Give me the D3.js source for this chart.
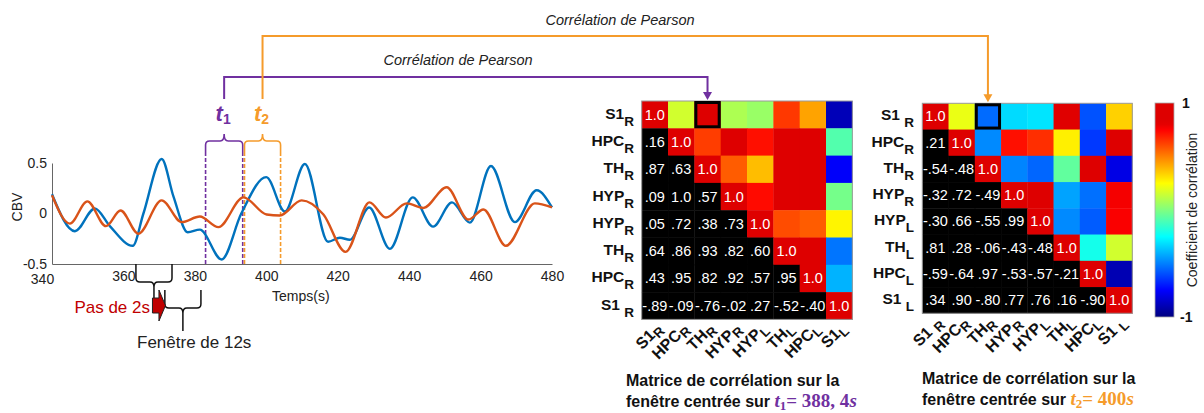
<!DOCTYPE html>
<html><head><meta charset="utf-8">
<script src="https://cdn.jsdelivr.net/npm/d3@7"></script>
<style>
body{margin:0;background:#fff}
svg{display:block}
text{font-family:"Liberation Sans",Arial,sans-serif}
</style>
</head><body>
<svg id="c" width="1204" height="413"></svg>
<script>
// ---------- DATA ----------
const blueT = [340, 346.4, 352, 356.2, 362.6, 365.6, 370.7, 374, 378, 381.4, 387.5, 393, 400, 405.2, 410.8, 417.3, 420.6, 423.4, 428.8, 434.6, 441, 446.7, 452, 457, 462.9, 469.6, 475.7, 480];
const blueV = [0.19, -0.175, 0.05, -0.125, -0.32, 0.0, 0.54, 0.17, -0.185, -0.16, -0.455, 0.0, 0.36, 0.02, 0.49, -0.28, -0.24, -0.26, 0.06, -0.35, 0.16, -0.13, 0.11, -0.09, 0.47, -0.085, 0.23, 0.06];
const orangeT = [340, 345, 349.9, 355.1, 359.2, 364.2, 370.7, 376.3, 381.4, 386.6, 393.6, 400.1, 403.8, 409.9, 416, 422.2, 428.9, 433.5, 439.3, 444, 450.5, 456.6, 460.8, 467.1, 475.2, 480];
const orangeV = [0.18, -0.1, 0.12, -0.125, 0.03, -0.2, 0.13, -0.085, -0.03, -0.135, 0.16, -0.01, -0.02, 0.13, -0.01, -0.38, 0.11, -0.04, 0.1, 0.055, 0.26, -0.06, 0.04, -0.32, 0.1, 0.06];
const xTicks = [340, 360, 380, 400, 420, 440, 460, 480];
const yTicks = [-0.5, 0, 0.5];
const windowT1 = [383, 393.4];
const windowT2 = [393.9, 404];
const winA = [363.5, 373.6];
const winB = [371.6, 381.7];
const t1Value = "388, 4";
const t2Value = "400";

const rowLabels1 = ["S1_R","HPC_R","TH_R","HYP_R","HYP_R","TH_R","HPC_R","S1 _R"];
const colLabels1 = ["S1_R","HPC_R","TH_R","HYP_R","HYP_L","TH_L","HPC_L","S1_L"];
const rowLabels2 = ["S1 _R","HPC_R","TH_R","HYP_R","HYP_L","TH_L","HPC_L","S1 _L"];
const colLabels2 = ["S1 _R","HPC_R","TH_R","HYP_R","HYP_L","TH_L","HPC_L","S1 _L"];

const corr1 = [
  [1],
  [.16, 1],
  [.87, .63, 1],
  [.09, 1.0, .57, 1],
  [.05, .72, .38, .73, 1],
  [.64, .86, .93, .82, .60, 1],
  [.43, .95, .82, .92, .57, .95, 1],
  [-.89, -.09, -.76, -.02, .27, -.52, -.40, 1]
];
const corr2 = [
  [1],
  [.21, 1],
  [-.54, -.48, 1],
  [-.32, .72, -.49, 1],
  [-.30, .66, -.55, .99, 1],
  [.81, .28, -.06, -.43, -.48, 1],
  [-.59, -.64, .97, -.53, -.57, -.21, 1],
  [.34, .90, -.80, .77, .76, .16, -.90, 1]
];
const highlight = [0, 2];
const cbTicks = [1, -1];

// ---------- STYLE ----------
const PURPLE = "#7030A0", ORANGE = "#F59B2B", BLUE = "#0072BD", RED = "#D95319";
const svg = d3.select("#c");

function clamp(v){return Math.max(0, Math.min(1, v));}
function jet(v){
  const t = (v + 1) / 2;
  let r = clamp(1.5 - Math.abs(4*t - 3)), g = clamp(1.5 - Math.abs(4*t - 2)), b = clamp(1.5 - Math.abs(4*t - 1));
  if (t > 0.875) r = Math.max(r, 0.87);
  return d3.rgb(r*255, g*255, b*255).formatHex();
}

// ---------- LINE CHART ----------
const x = d3.scaleLinear().domain([340, 480]).range([52, 552]);
const y = d3.scaleLinear().domain([-0.5, 0.5]).range([264, 163]);

function topBrace(w, color){
  const x0 = x(w[0]), x1 = x(w[1]), xm = (x0 + x1) / 2, yt = 141, yb = 152, r = 4;
  svg.append("path")
    .attr("d", `M${x0},${yb} L${x0},${yt+r} Q${x0},${yt} ${x0+r},${yt} L${xm-r},${yt} Q${xm},${yt} ${xm},${yt-7} Q${xm},${yt} ${xm+r},${yt} L${x1-r},${yt} Q${x1},${yt} ${x1},${yt+r} L${x1},${yb}`)
    .attr("fill", "none").attr("stroke", color).attr("stroke-width", 1.6);
  [x0, x1].forEach(xx => svg.append("line")
    .attr("x1", xx).attr("x2", xx).attr("y1", yb).attr("y2", y(-0.5))
    .attr("stroke", color).attr("stroke-width", 1.6).attr("stroke-dasharray", "4,2"));
  return xm;
}
const xm1 = topBrace(windowT1, PURPLE);
const xm2 = topBrace(windowT2, ORANGE);

const gx = svg.append("g").attr("transform", `translate(0,${y(-0.5)})`)
  .call(d3.axisBottom(x).tickValues(xTicks).tickSize(0).tickSizeOuter(0).tickPadding(7).tickFormat(d3.format("d")));
gx.select(".domain").attr("stroke", "#666");
gx.selectAll("text").attr("font-size", 14).attr("fill", "#222").attr("font-family", "Liberation Sans, Arial, sans-serif");
gx.selectAll(".tick").filter(d => d === 340).select("text").attr("transform", "translate(-10,3)");

const gy = svg.append("g").attr("transform", `translate(${x(340)},0)`)
  .call(d3.axisLeft(y).tickValues(yTicks).tickSize(0).tickSizeOuter(0).tickPadding(5).tickFormat(d => d === 0 ? "0" : String(d)));
gy.select(".domain").attr("stroke", "#666");
gy.selectAll("text").attr("font-size", 14).attr("fill", "#222").attr("font-family", "Liberation Sans, Arial, sans-serif");

svg.append("text").attr("transform", "translate(21.5,207) rotate(-90)").attr("text-anchor", "middle")
  .attr("font-size", 14).attr("fill", "#222").text("CBV");
svg.append("text").attr("x", 272).attr("y", 301).attr("font-size", 14).attr("fill", "#222").text("Temps(s)");

const line = d3.line().x(d => x(d[0])).y(d => y(d[1])).curve(d3.curveMonotoneX);
svg.append("path").datum(blueT.map((t, i) => [t, blueV[i]])).attr("d", line)
  .attr("fill", "none").attr("stroke", BLUE).attr("stroke-width", 2.4);
svg.append("path").datum(orangeT.map((t, i) => [t, orangeV[i]])).attr("d", line)
  .attr("fill", "none").attr("stroke", RED).attr("stroke-width", 2.4);

function tLabel(xm, sub, color){
  const t = svg.append("text").attr("x", xm - 1).attr("y", 121).attr("text-anchor", "middle")
    .attr("fill", color).attr("font-family", "Liberation Serif, serif").attr("font-weight", "bold");
  t.append("tspan").attr("font-style", "italic").attr("font-size", 22).text("t");
  t.append("tspan").attr("font-size", 14).attr("dy", 3).text(sub);
}
tLabel(xm1, "1", PURPLE);
tLabel(xm2, "2", ORANGE);

function downBrace(w, yTop, yH, yTip){
  const x0 = x(w[0]), x1 = x(w[1]), xm = (x0 + x1) / 2, r = 4;
  svg.append("path")
    .attr("d", `M${x0},${yTop} L${x0},${yH-r} Q${x0},${yH} ${x0+r},${yH} L${xm-r},${yH} Q${xm},${yH} ${xm},${yH+5} L${xm},${yTip} M${xm},${yH+5} Q${xm},${yH} ${xm+r},${yH} L${x1-r},${yH} Q${x1},${yH} ${x1},${yH-r} L${x1},${yTop}`)
    .attr("fill", "none").attr("stroke", "#111").attr("stroke-width", 1.5);
  return xm;
}
const xa = downBrace(winA, y(-0.5), 282, 298);
downBrace(winB, 290, 308, 331);

const ax = xa - 1.5;
svg.append("polygon")
  .attr("points", [[ax, 298], [ax+6.5, 298], [ax+6.5, 290], [ax+13, 305.5], [ax+6.5, 321], [ax+6.5, 313], [ax, 313]].map(p => p.join(",")).join(" "))
  .attr("fill", "#C00000").attr("stroke", "#222").attr("stroke-width", 1);
svg.append("text").attr("x", 150).attr("y", 313).attr("text-anchor", "end")
  .attr("font-size", 17).attr("fill", "#C00000").text("Pas de 2s");
svg.append("text").attr("x", 137).attr("y", 348)
  .attr("font-size", 17).attr("fill", "#222").text("Fenêtre de 12s");

// ---------- MATRICES ----------
function fmt(v){
  if (v === 1) return "1.0";
  return d3.format(".2f")(v).replace("−", "-").replace(/^(-?)0\./, "$1.");
}
function splitLab(s){ const p = s.split("_"); return [p[0], p[1]]; }

function matrix(corr, x0, y0, cw, ch, rows, cols, labX, arrowColor, xmTop, yLine, titleX, titleY, tSub, tVal, tColor){
  const n = corr.length;
  const xs = d3.scaleBand().domain(d3.range(n)).range([x0, x0 + n*cw]);
  const ys = d3.scaleBand().domain(d3.range(n)).range([y0, y0 + n*ch]);
  const val = (i, j) => i >= j ? corr[i][j] : corr[j][i];
  const cells = [];
  for (let i = 0; i < n; i++) for (let j = 0; j < n; j++) cells.push({i, j, v: val(i, j)});
  const g = svg.append("g");
  g.selectAll("rect.cell").data(cells).join("rect").attr("class", "cell")
    .attr("x", d => xs(d.j)).attr("y", d => ys(d.i))
    .attr("width", xs.bandwidth() + 0.4).attr("height", ys.bandwidth() + 0.4)
    .attr("fill", d => d.i > d.j ? "#000" : jet(d.v));
  g.selectAll("text.num").data(cells.filter(d => d.i >= d.j)).join("text").attr("class", "num")
    .attr("x", d => xs(d.j) + xs.bandwidth()/2).attr("y", d => ys(d.i) + ys.bandwidth()/2 + 5)
    .attr("text-anchor", "middle").attr("font-size", 14.5).attr("fill", "#fff").text(d => fmt(d.v));
  g.append("rect").attr("x", x0).attr("y", y0).attr("width", n*cw).attr("height", n*ch)
    .attr("fill", "none").attr("stroke", "#999").attr("stroke-width", 1);
  g.append("rect").attr("x", xs(highlight[1]) + 1.5).attr("y", ys(highlight[0]) + 1.5)
    .attr("width", xs.bandwidth() - 3).attr("height", ys.bandwidth() - 3)
    .attr("fill", "none").attr("stroke", "#000").attr("stroke-width", 3);
  rows.forEach((s, i) => {
    const [a, b] = splitLab(s);
    const t = g.append("text").attr("x", labX).attr("y", ys(i) + ys.bandwidth()/2 + 4)
      .attr("text-anchor", "end").attr("font-weight", "bold").attr("fill", "#111");
    t.append("tspan").attr("font-size", 15.5).text(a);
    t.append("tspan").attr("font-size", 13.5).attr("dy", 7).text(b);
  });
  const yb = y0 + n*ch;
  cols.forEach((s, j) => {
    const [a, b] = splitLab(s);
    const cx = xs(j) + xs.bandwidth()/2 + 8;
    const t = g.append("text").attr("transform", `translate(${cx},${yb + 10}) rotate(-45)`)
      .attr("text-anchor", "end").attr("font-weight", "bold").attr("fill", "#111");
    t.append("tspan").attr("font-size", 16).text(a);
    t.append("tspan").attr("font-size", 13.5).attr("dy", 4).text(b);
  });
  const axp = xs(highlight[1]) + xs.bandwidth()/2;
  svg.append("path").attr("d", `M${xmTop},99 L${xmTop},${yLine} L${axp},${yLine} L${axp},${y0 - 8}`)
    .attr("fill", "none").attr("stroke", arrowColor).attr("stroke-width", 2);
  svg.append("polygon").attr("points", `${axp-4.5},${y0-9} ${axp+4.5},${y0-9} ${axp},${y0-1}`).attr("fill", arrowColor);
  svg.append("text").attr("x", titleX).attr("y", titleY).attr("font-size", 16).attr("font-weight", "bold")
    .attr("fill", "#111").text("Matrice de corrélation sur la");
  const t2 = svg.append("text").attr("x", titleX).attr("y", titleY + 21).attr("font-size", 16).attr("font-weight", "bold").attr("fill", "#111");
  t2.append("tspan").text("fenêtre centrée sur ");
  const serif = "Liberation Serif, serif";
  t2.append("tspan").attr("fill", tColor).attr("font-family", serif).attr("font-style", "italic").attr("font-size", 19).text("t");
  t2.append("tspan").attr("fill", tColor).attr("font-family", serif).attr("font-size", 13).attr("dy", 3).text(tSub);
  t2.append("tspan").attr("fill", tColor).attr("font-family", serif).attr("font-size", 19).attr("dy", -3).text("= " + tVal);
  t2.append("tspan").attr("fill", tColor).attr("font-family", serif).attr("font-style", "italic").attr("font-size", 19).text("s");
}

matrix(corr1, 641.7, 101, 26.33, 27.3, rowLabels1, colLabels1, 634, PURPLE, xm1, 77, 626, 386, "1", t1Value, PURPLE);
matrix(corr2, 922.3, 103.3, 26.25, 26.25, rowLabels2, colLabels2, 914, ORANGE, xm2, 36, 922, 384, "2", t2Value, ORANGE);

svg.append("text").attr("x", 458).attr("y", 65).attr("text-anchor", "middle").attr("font-style", "italic")
  .attr("font-size", 14.5).attr("fill", "#222").text("Corrélation de Pearson");
svg.append("text").attr("x", 620).attr("y", 25).attr("text-anchor", "middle").attr("font-style", "italic")
  .attr("font-size", 14.5).attr("fill", "#222").text("Corrélation de Pearson");

// ---------- COLORBAR ----------
const defs = svg.append("defs");
const grad = defs.append("linearGradient").attr("id", "jetg").attr("x1", 0).attr("y1", 1).attr("x2", 0).attr("y2", 0);
d3.range(0, 1.0001, 0.025).forEach(t => grad.append("stop").attr("offset", t).attr("stop-color", jet(-1 + 2*t)));
const cbY = d3.scaleLinear().domain([-1, 1]).range([317, 103]);
svg.append("rect").attr("x", 1155).attr("y", cbY(1)).attr("width", 19).attr("height", cbY(-1) - cbY(1))
  .attr("fill", "url(#jetg)").attr("stroke", "#aaa").attr("stroke-width", 0.8);
cbTicks.forEach(v => svg.append("text").attr("x", v > 0 ? 1182 : 1180).attr("y", cbY(v) + 5)
  .attr("font-size", 14).attr("font-weight", "bold").attr("fill", "#111").text(String(v)));
svg.append("text").attr("transform", "translate(1196.5,210) rotate(-90)").attr("text-anchor", "middle")
  .attr("font-size", 14).attr("fill", "#222").text("Coefficient de corrélation");
</script>
</body></html>
